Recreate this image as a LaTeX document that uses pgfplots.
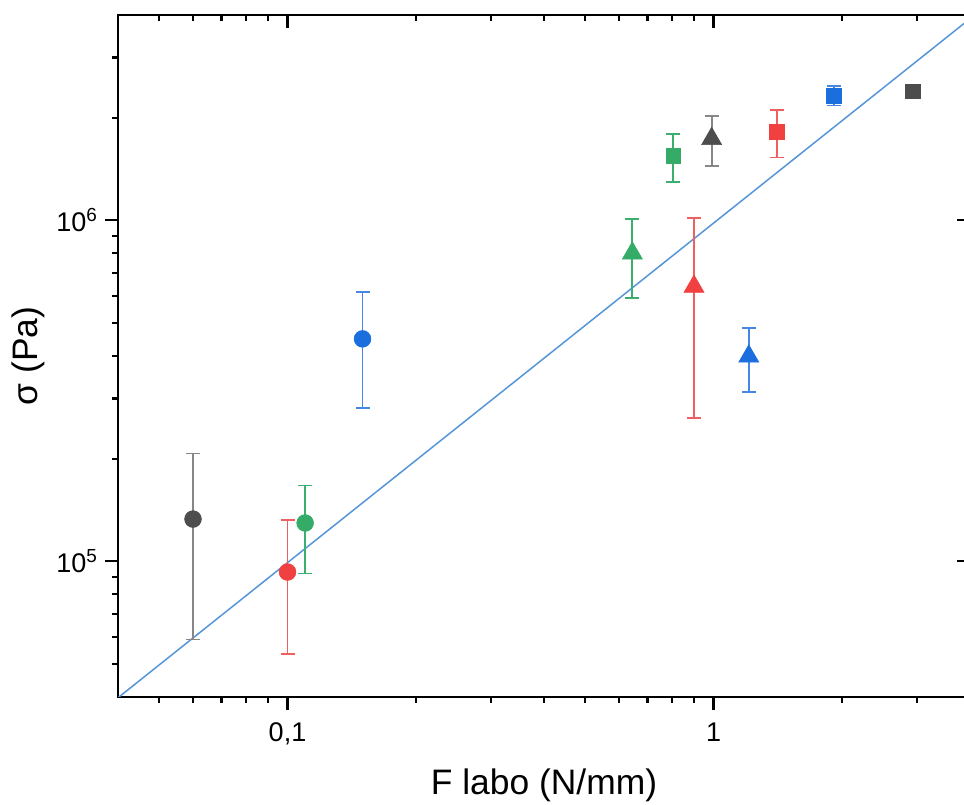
\documentclass[border=0pt]{standalone}
\usepackage{fontspec}
\setmainfont{Liberation Sans}
\usepackage{pgfplots}
\pgfplotsset{compat=1.18}
\usetikzlibrary{calc}
\definecolor{cgray}{RGB}{77,77,77}
\definecolor{cred}{RGB}{240,64,64}
\definecolor{cgreen}{RGB}{52,172,104}
\definecolor{cblue}{RGB}{26,110,222}
\definecolor{egray}{RGB}{135,135,135}
\definecolor{ered}{RGB}{240,95,95}
\definecolor{egreen}{RGB}{60,175,110}
\definecolor{eblue}{RGB}{70,135,228}
\definecolor{cline}{RGB}{85,150,218}
\begin{document}
\begin{tikzpicture}
\begin{axis}[
  xmode=log, ymode=log, scale only axis, width=426pt, height=341pt,
  xmin=0.04, xmax=4, ymin=4e4, ymax=4e6,
  major tick length=6.5pt, minor tick length=3pt,
  every tick/.style={black, line width=1.1pt},
  xtick={0.1,1}, ytick={1e5,1e6},
  minor xtick={0.05,0.06,0.07,0.08,0.09,0.2,0.3,0.4,0.5,0.6,0.7,0.8,0.9,2,3},
  minor ytick={5e4,6e4,7e4,8e4,9e4,2e5,3e5,4e5,5e5,6e5,7e5,8e5,9e5,2e6,3e6},
  axis line style={line width=1.4pt},
  tick align=outside, xtick pos=left, ytick pos=left,
  xticklabels={{0,1},1},
  yticklabels={10\textsuperscript{5},10\textsuperscript{6}},
  tick label style={font=\fontsize{13.5}{13.5}\selectfont},
  xticklabel style={yshift=-3pt},
  xlabel={F labo (N/mm)}, ylabel={σ (Pa)},
  label style={font=\fontsize{17.7}{17.7}\selectfont},
  xlabel style={at={(axis description cs:0.5,-0.1437)}, anchor=base},
  ylabel style={at={(axis description cs:-0.105,0.5)}, anchor=center},
  error bars/y dir=both, error bars/y explicit,
]
\coordinate (bl) at (rel axis cs:0,0);
\coordinate (tr) at (rel axis cs:1,1);
\addplot[cline, line width=0.75pt] coordinates {(0.04,3.98e4) (4,3.9e6)};
% circles
\addplot[only marks, mark=*, mark size=4.2pt, color=cgray, mark options={fill=cgray, line width=0.3pt}, error bars/error bar style={draw=egray, line width=0.9pt}, error bars/error mark options={draw=egray, rotate=90, mark size=3.5pt, line width=0.9pt}] coordinates {(0.06,1.33e5) +- (0,7.4e4)};
\addplot[only marks, mark=*, mark size=4.2pt, color=cred, mark options={fill=cred, line width=0.3pt}, error bars/error bar style={draw=ered, line width=0.9pt}, error bars/error mark options={draw=ered, rotate=90, mark size=3.5pt, line width=0.9pt}] coordinates {(0.1,9.3e4) +- (0,3.94e4)};
\addplot[only marks, mark=*, mark size=4.2pt, color=cgreen, mark options={fill=cgreen, line width=0.3pt}, error bars/error bar style={draw=egreen, line width=0.9pt}, error bars/error mark options={draw=egreen, rotate=90, mark size=3.5pt, line width=0.9pt}] coordinates {(0.11,1.295e5) +- (0,3.74e4)};
\addplot[only marks, mark=*, mark size=4.2pt, color=cblue, mark options={fill=cblue, line width=0.3pt}, error bars/error bar style={draw=eblue, line width=0.9pt}, error bars/error mark options={draw=eblue, rotate=90, mark size=3.5pt, line width=0.9pt}] coordinates {(0.15,4.49e5) +- (0,1.675e5)};
% triangles
\addplot[only marks, mark=triangle*, mark size=5.8pt, color=cgreen, mark options={fill=cgreen, line width=0.3pt}, error bars/error bar style={draw=egreen, line width=0.9pt}, error bars/error mark options={draw=egreen, rotate=90, mark size=3.5pt, line width=0.9pt}] coordinates {(0.645,8.0e5) +- (0,2.08e5)};
\addplot[only marks, mark=triangle*, mark size=5.8pt, color=cred, mark options={fill=cred, line width=0.3pt}, error bars/error bar style={draw=ered, line width=0.9pt}, error bars/error mark options={draw=ered, rotate=90, mark size=3.5pt, line width=0.9pt}] coordinates {(0.9,6.39e5) +- (0,3.76e5)};
\addplot[only marks, mark=triangle*, mark size=5.8pt, color=cgray, mark options={fill=cgray, line width=0.3pt}, error bars/error bar style={draw=egray, line width=0.9pt}, error bars/error mark options={draw=egray, rotate=90, mark size=3.5pt, line width=0.9pt}] coordinates {(0.99,1.733e6) +- (0,2.92e5)};
\addplot[only marks, mark=triangle*, mark size=5.8pt, color=cblue, mark options={fill=cblue, line width=0.3pt}, error bars/error bar style={draw=eblue, line width=0.9pt}, error bars/error mark options={draw=eblue, rotate=90, mark size=3.5pt, line width=0.9pt}] coordinates {(1.21,3.99e5) +- (0,8.5e4)};
% squares
\addplot[only marks, mark=square*, mark size=3.7pt, color=cgreen, mark options={fill=cgreen, line width=0.3pt}, error bars/error bar style={draw=egreen, line width=0.9pt}, error bars/error mark options={draw=egreen, rotate=90, mark size=3.5pt, line width=0.9pt}] coordinates {(0.805,1.543e6) +- (0,2.51e5)};
\addplot[only marks, mark=square*, mark size=3.7pt, color=cred, mark options={fill=cred, line width=0.3pt}, error bars/error bar style={draw=ered, line width=0.9pt}, error bars/error mark options={draw=ered, rotate=90, mark size=3.5pt, line width=0.9pt}] coordinates {(1.41,1.819e6) +- (0,2.9e5)};
\addplot[only marks, mark=square*, mark size=3.7pt, color=cblue, mark options={fill=cblue, line width=0.3pt}, error bars/error bar style={draw=eblue, line width=0.9pt}, error bars/error mark options={draw=eblue, rotate=90, mark size=3.5pt, line width=0.9pt}] coordinates {(1.92,2.32e6) +- (0,1.5e5)};
\addplot[only marks, mark=square*, mark size=3.7pt, color=cgray, mark options={fill=cgray, line width=0.3pt}, error bars/y dir=none] coordinates {(2.94,2.39e6)};
\end{axis}
\begin{axis}[
  xmode=log, ymode=log, scale only axis, width=426pt, height=341pt,
  xmin=0.04, xmax=4, ymin=4e4, ymax=4e6,
  major tick length=6.5pt, minor tick length=3pt,
  every tick/.style={black, line width=1.1pt},
  xtick={0.1,1}, ytick={1e5,1e6},
  minor xtick={0.05,0.06,0.07,0.08,0.09,0.2,0.3,0.4,0.5,0.6,0.7,0.8,0.9,2,3},
  axis line style={draw=none},
  tick align=inside, xtick pos=right, ytick pos=right,
  xticklabels={}, yticklabels={},
]
\end{axis}
\pgfresetboundingbox
\path[use as bounding box] ($(bl)+(-59pt,-53.5pt)$) rectangle ($(tr)+(-3pt,7.5pt)$);
\end{tikzpicture}
\end{document}
